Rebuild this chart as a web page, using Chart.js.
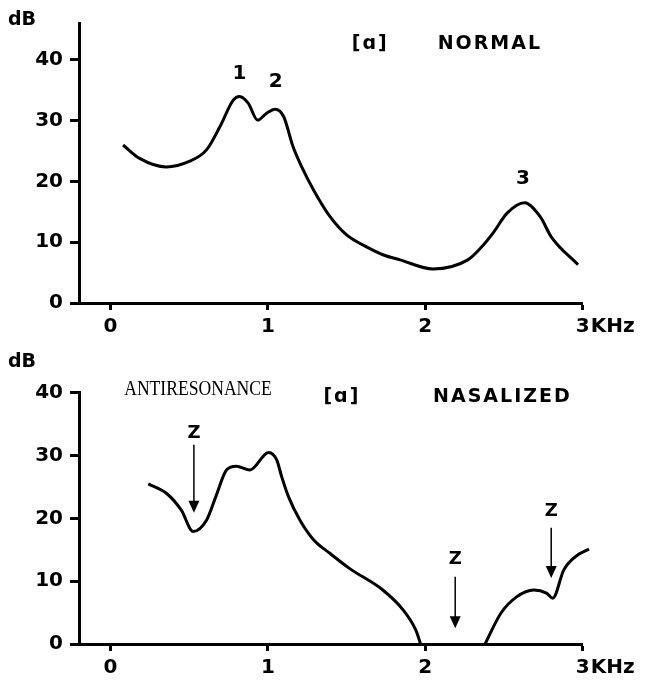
<!DOCTYPE html>
<html>
<head>
<meta charset="utf-8">
<script src="https://cdn.jsdelivr.net/npm/chart.js@4.4.0/dist/chart.umd.min.js"></script>
<style>
  body { margin: 0; background: #fff; }
  canvas { display: block; }
</style>
</head>
<body>
<canvas id="normalChart" width="645" height="340"></canvas>
<canvas id="nasalChart" width="645" height="340"></canvas>
<script>
// tick values
const freqTicks = [0, 1, 2, 3];
const dbTicks = [0, 10, 20, 30, 40];

// [a] normal spectrum
const normalKHz = [0.08, 0.185, 0.355, 0.5, 0.61, 0.695, 0.78, 0.82, 0.875, 0.935,
  0.99, 1.046, 1.1, 1.16, 1.215, 1.29, 1.395, 1.5, 1.63, 1.735, 1.84,
  2.05, 2.27, 2.35, 2.43, 2.52, 2.63, 2.73, 2.8, 2.97];
const normalDb = [26.0, 23.8, 22.4, 23.3, 25.2, 29.0, 33.4, 34.0, 32.9, 30.1,
  31.2, 31.9, 30.7, 25.7, 22.4, 18.6, 14.2, 11.2, 9.2, 7.9, 7.1,
  5.6, 7.1, 9.0, 11.5, 14.8, 16.5, 14.2, 10.9, 6.3];

// [a] nasalized spectrum, two pieces (drops out between ~2 and 2.4 kHz)
const nasalKHzLow = [0.24, 0.355, 0.45, 0.525, 0.61, 0.67, 0.737, 0.8, 0.886, 1.005,
  1.056, 1.088, 1.13, 1.204, 1.29, 1.395, 1.52, 1.73, 1.86, 1.94, 1.97];
const nasalDbLow = [25.5, 24.0, 21.3, 17.9, 19.7, 23.5, 27.7, 28.3, 27.7, 30.5,
  29.3, 26.6, 23.5, 19.7, 16.6, 14.4, 12.0, 8.6, 5.4, 2.2, 0];
const nasalKHzHigh = [2.38, 2.48, 2.58, 2.69, 2.77, 2.81, 2.88, 2.97, 3.04];
const nasalDbHigh = [0, 4.9, 7.5, 8.6, 8.1, 7.3, 11.8, 14.2, 15.1];

// formant numbers + titles (data coords)
const normalNotes = [
  { text: '1', x: 0.82, y: 37.7 },
  { text: '2', x: 1.05, y: 36.4 },
  { text: '3', x: 2.62, y: 20.5 },
];
const normalTitles = [
  { text: '[ɑ]', x: 1.65, y: 42.6 },
  { text: 'NORMAL', x: 2.41, y: 42.6 },
];
const nasalTitles = [
  { text: '[ɑ]', x: 1.47, y: 39.3 },
  { text: 'NASALIZED', x: 2.49, y: 39.3 },
];
// antiresonance arrows: label height, arrow start, arrow tip
const zeroKHz = [0.53, 2.19, 2.8];
const zeroLabelDb = [33.6, 13.4, 21.1];
const zeroFromDb = [31.7, 10.7, 18.5];
const zeroToDb = [20.9, 2.5, 10.5];

const pts = (xs, ys) => xs.map((x, i) => ({ x: x, y: ys[i] }));

const notesPlugin = {
  id: 'notes',
  afterDraw(chart, args, opts) {
    const ctx = chart.ctx;
    const xs = chart.scales.x;
    const ys = chart.scales.y;
    ctx.save();
    ctx.fillStyle = '#000';
    ctx.strokeStyle = '#000';
    ctx.textAlign = 'center';
    ctx.textBaseline = 'middle';

    // unit labels
    ctx.font = 'bold 19px "DejaVu Sans"';
    ctx.fillText('dB', 22, opts.dbY);
    ctx.font = 'bold 20px "DejaVu Sans"';
    ctx.textAlign = 'left';
    ctx.fillText('KHz', xs.getPixelForValue(3) + 8, xs.top + 24);
    ctx.textAlign = 'center';

    (opts.numbers || []).forEach(n => {
      ctx.font = 'bold 20px "DejaVu Sans"';
      ctx.fillText(n.text, xs.getPixelForValue(n.x), ys.getPixelForValue(n.y));
    });
    (opts.titles || []).forEach(n => {
      ctx.font = 'bold 19px "DejaVu Sans"';
      ctx.letterSpacing = '2px';
      ctx.fillText(n.text, xs.getPixelForValue(n.x), ys.getPixelForValue(n.y));
    });
    ctx.letterSpacing = '0px';

    if (opts.anti) {
      ctx.save();
      ctx.translate(xs.getPixelForValue(0.556), ys.getPixelForValue(40.4));
      ctx.scale(0.88, 1);
      ctx.font = '20px "Liberation Serif"';
      ctx.fillText('ANTIRESONANCE', 0, 0);
      ctx.restore();
    }

    if (opts.zeros) {
      zeroKHz.forEach((k, i) => {
        const px = xs.getPixelForValue(k);
        ctx.font = 'bold 18px "DejaVu Sans"';
        ctx.fillText('Z', px, ys.getPixelForValue(zeroLabelDb[i]));
        const y0 = ys.getPixelForValue(zeroFromDb[i]);
        const y1 = ys.getPixelForValue(zeroToDb[i]);
        ctx.lineWidth = 1.5;
        ctx.beginPath();
        ctx.moveTo(px, y0);
        ctx.lineTo(px, y1 - 10);
        ctx.stroke();
        ctx.beginPath();
        ctx.moveTo(px - 5.5, y1 - 12);
        ctx.lineTo(px + 5.5, y1 - 12);
        ctx.lineTo(px, y1);
        ctx.closePath();
        ctx.fill();
      });
    }
    ctx.restore();
  }
};

Chart.defaults.font.family = '"DejaVu Sans"';
Chart.defaults.color = '#000';

function makeChart(id, datasets, yMax, topPad, xHeight, notes) {
  return new Chart(document.getElementById(id), {
    type: 'scatter',
    data: { datasets: datasets },
    options: {
      responsive: false,
      animation: false,
      layout: { padding: { top: topPad, right: 62.3, bottom: 0, left: 0 } },
      plugins: {
        legend: { display: false },
        tooltip: { enabled: false },
        notes: notes,
      },
      elements: { point: { radius: 0 } },
      scales: {
        x: {
          type: 'linear',
          min: -0.2,
          max: 3,
          afterFit: (s) => { s.height = xHeight; },
          afterBuildTicks: (s) => { s.ticks = freqTicks.map(v => ({ value: v })); },
          border: { display: true, color: '#000', width: 3 },
          grid: { drawOnChartArea: false, drawTicks: true, tickLength: 7, tickWidth: 3, color: '#000' },
          ticks: { padding: 5, font: { size: 20, weight: 'bold' } },
        },
        y: {
          min: 0,
          max: yMax,
          afterFit: (s) => { s.width = 79; },
          afterBuildTicks: (s) => { s.ticks = dbTicks.map(v => ({ value: v })); },
          border: { display: true, color: '#000', width: 3 },
          grid: { drawOnChartArea: false, drawTicks: true, tickLength: 9, tickWidth: 3, color: '#000' },
          ticks: { padding: 7, font: { size: 20, weight: 'bold' } },
        },
      },
    },
    plugins: [notesPlugin],
  });
}

const lineStyle = { showLine: true, borderColor: '#000', borderWidth: 3, cubicInterpolationMode: 'monotone', pointRadius: 0, clip: false };

makeChart('normalChart',
  [Object.assign({ data: pts(normalKHz, normalDb) }, lineStyle)],
  46, 23.5, 37,
  { dbY: 20, numbers: normalNotes, titles: normalTitles });

makeChart('nasalChart',
  [Object.assign({ data: pts(nasalKHzLow, nasalDbLow) }, lineStyle),
   Object.assign({ data: pts(nasalKHzHigh, nasalDbHigh) }, lineStyle)],
  40, 52.7, 36,
  { dbY: 22, titles: nasalTitles, anti: true, zeros: true });
</script>
</body>
</html>
